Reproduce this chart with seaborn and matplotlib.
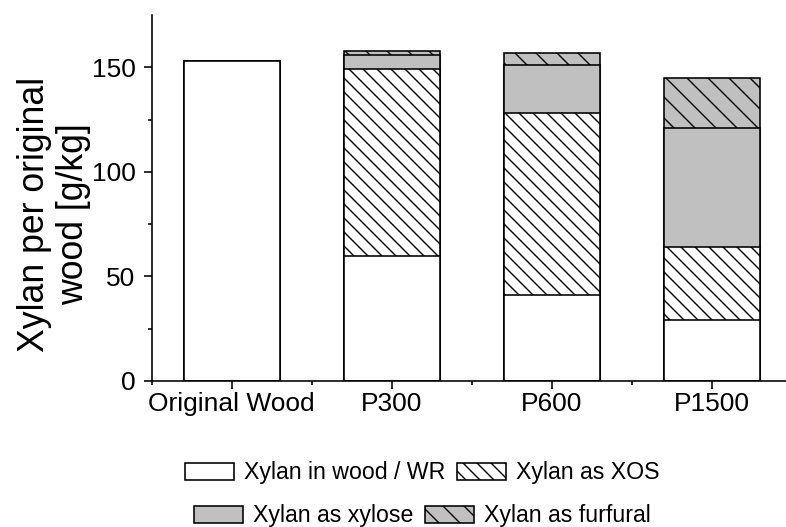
import matplotlib
matplotlib.use("Agg")
import matplotlib.pyplot as plt
from matplotlib.patches import Patch
from matplotlib.ticker import FixedLocator
import seaborn as sns
import pandas as pd
import numpy as np

categories = ["Original Wood", "P300", "P600", "P1500"]
wood = [153, 60, 41, 29]
xos = [0, 89, 87, 35]
xylose = [0, 7, 23, 57]
furfural = [0, 2, 6, 24]
legend_labels = ["Xylan in wood / WR", "Xylan as XOS", "Xylan as xylose", "Xylan as furfural"]
y_label = "Xylan per original\nwood [g/kg]"

DPI = 126
P = 72.0 / DPI  # pixels -> points

sns.set_style("ticks")
plt.rcParams["font.family"] = ["Liberation Sans", "DejaVu Sans"]
plt.rcParams["hatch.linewidth"] = 1.4 * P
plt.rcParams["hatch.color"] = "black"
plt.rcParams["text.color"] = "black"
plt.rcParams["axes.labelcolor"] = "black"
plt.rcParams["axes.edgecolor"] = "black"

fig = plt.figure(figsize=(786 / DPI, 527 / DPI), dpi=DPI)
ax = fig.add_axes([151.7 / 786, 1 - 381 / 527, 640 / 786, 366 / 527])

wood_a = np.array(wood, float)
xos_a = np.array(xos, float)
xyl_a = np.array(xylose, float)
fur_a = np.array(furfural, float)

df = pd.DataFrame({
    "cat": categories,
    "total": wood_a + xos_a + xyl_a + fur_a,
    "to_xylose": wood_a + xos_a + xyl_a,
    "to_xos": wood_a + xos_a,
    "wood": wood_a,
})

GREY = "#c0c0c0"
EW = 1.6 * P
layers = [
    ("total", GREY, "\\\\"),
    ("to_xylose", GREY, None),
    ("to_xos", "white", "\\\\\\"),
    ("wood", "white", None),
]
for col, color, hatch in layers:
    sns.barplot(data=df, x="cat", y=col, order=categories, color=color,
                saturation=1, width=0.6, edgecolor="black", linewidth=EW,
                hatch=hatch, errorbar=None, ax=ax)

ax.set_xlim(-0.5, 3.5)
ax.set_ylim(0, 175)
ax.set_yticks([0, 50, 100, 150])
ax.yaxis.set_minor_locator(FixedLocator([25, 75, 125]))
ax.xaxis.set_minor_locator(FixedLocator([-0.5, 0.5, 1.5, 2.5]))
sns.despine(ax=ax)
for s in ["left", "bottom"]:
    ax.spines[s].set_linewidth(1.6 * P)
    ax.spines[s].set_color("black")
ax.tick_params(axis="both", which="major", length=8 * P, width=1.6 * P,
               labelsize=26.4 * P, pad=3 * P, colors="black")
ax.tick_params(axis="y", which="major", pad=8 * P)
ax.tick_params(axis="both", which="minor", length=4.5 * P, width=1.6 * P, colors="black")
ax.set_xlabel("")
ax.set_ylabel(y_label, fontsize=35.6 * P, linespacing=1.15, color="black")
ax.yaxis.set_label_coords(-0.095, 0.456)

h_wood = Patch(facecolor="white", edgecolor="black", linewidth=EW)
h_xos = Patch(facecolor="white", edgecolor="black", linewidth=EW, hatch="\\\\\\")
h_xyl = Patch(facecolor=GREY, edgecolor="black", linewidth=EW)
h_fur = Patch(facecolor=GREY, edgecolor="black", linewidth=EW, hatch="\\\\")

leg_kw = dict(loc="center", ncol=2, frameon=False, fontsize=23.1 * P,
              handlelength=2.12, handleheight=0.75, handletextpad=0.43,
              columnspacing=0.5, borderpad=0, borderaxespad=0, labelcolor="black")
fig.legend([h_wood, h_xos], legend_labels[:2], bbox_to_anchor=(0.537, 0.103), **leg_kw)
fig.legend([h_xyl, h_fur], legend_labels[2:], bbox_to_anchor=(0.537, 0.021), **leg_kw)

fig.savefig("out.png", dpi=DPI)
